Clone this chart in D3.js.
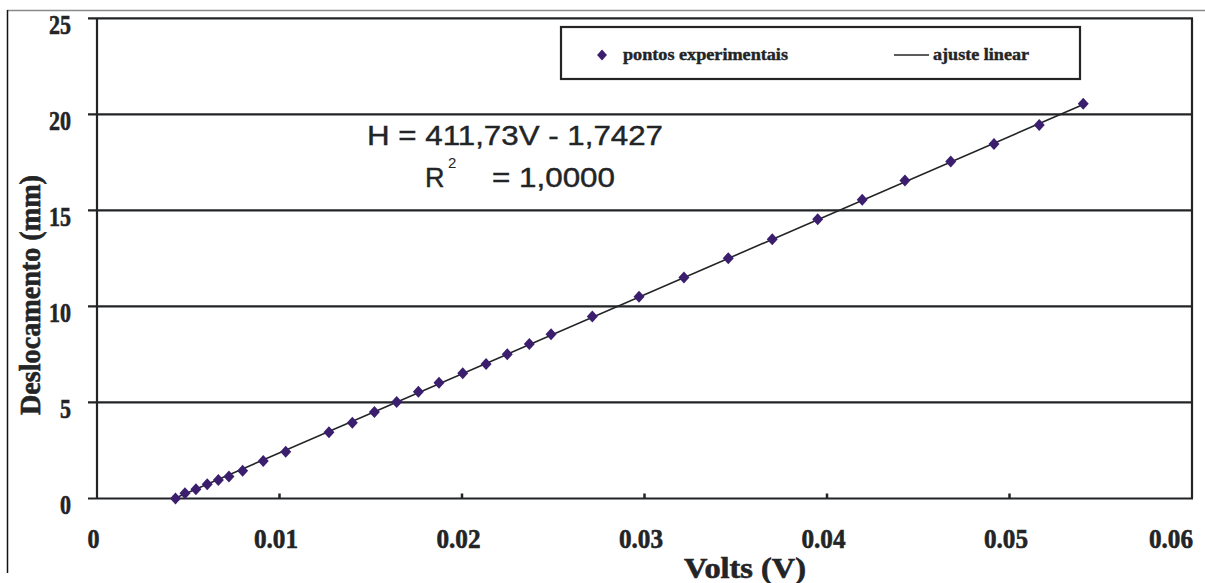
<!DOCTYPE html>
<html>
<head>
<meta charset="utf-8">
<script src="https://cdn.jsdelivr.net/npm/d3@7"></script>
<style>
  html, body { margin: 0; padding: 0; background: #ffffff; }
  svg { display: block; }
</style>
</head>
<body>
<svg id="chart" width="1205" height="583"></svg>
<script>
// Measured displacement versus output voltage
const volts = [0.00430, 0.00482, 0.00542, 0.00604, 0.00665, 0.00723, 0.00798, 0.00911,
               0.01034, 0.01271, 0.01399, 0.01520, 0.01642, 0.01761, 0.01874, 0.02004,
               0.02132, 0.02248, 0.02369, 0.02488, 0.02714, 0.02970, 0.03216, 0.03459,
               0.03700, 0.03949, 0.04193, 0.04427, 0.04678, 0.04915, 0.05163, 0.05404];
const displacement = [0.0, 0.27, 0.48, 0.74, 0.96, 1.14, 1.45, 1.95,
                      2.44, 3.45, 3.95, 4.50, 5.03, 5.56, 6.03, 6.52,
                      7.00, 7.51, 8.05, 8.55, 9.47, 10.50, 11.50, 12.51,
                      13.50, 14.54, 15.55, 16.55, 17.54, 18.46, 19.45, 20.55];

// Linear fit H = a*V + b
const fitSlope = 411.73;
const fitIntercept = -1.7427;
const fitLabel = "H = 411,73V - 1,7427";
const r2Label = "= 1,0000";

const xTicks = [0, 0.01, 0.02, 0.03, 0.04, 0.05, 0.06];
const xTickLabels = ["0", "0.01", "0.02", "0.03", "0.04", "0.05", "0.06"];
const yTicks = [0, 5, 10, 15, 20, 25];
const yTickLabels = ["0", "5", "10", "15", "20", "25"];

const xTitle = "Volts (V)";
const yTitle = "Deslocamento (mm)";
const legendLabels = ["pontos experimentais", "ajuste linear"];

const svg = d3.select("#chart");
const ink = "#222426";
const markerColor = "#3b1f6e";

const plotLeft = 97, plotRight = 1192, plotTop = 18.3, plotBottom = 498.5;
const x = d3.scaleLinear().domain([0, 0.06]).range([plotLeft, plotRight]);
const y = d3.scaleLinear().domain([0, 25]).range([plotBottom, plotTop]);

// outer frame pieces
svg.append("line").attr("x1", 7).attr("x2", 1205).attr("y1", 10.5).attr("y2", 10.5)
  .attr("stroke", "#8a8a8a").attr("stroke-width", 1.5);
svg.append("line").attr("x1", 7.5).attr("x2", 7.5).attr("y1", 10).attr("y2", 573)
  .attr("stroke", "#111").attr("stroke-width", 1.5);

// horizontal gridlines (extending left as tick marks)
svg.append("g").selectAll("line").data(yTicks).join("line")
  .attr("x1", plotLeft - 9).attr("x2", plotRight + 1)
  .attr("y1", d => y(d)).attr("y2", d => y(d))
  .attr("stroke", ink).attr("stroke-width", 2.2);

// vertical axis and right border
svg.append("line").attr("x1", plotLeft).attr("x2", plotLeft).attr("y1", y(25)).attr("y2", y(0))
  .attr("stroke", ink).attr("stroke-width", 2.2);
svg.append("line").attr("x1", plotRight).attr("x2", plotRight).attr("y1", y(25)).attr("y2", y(0))
  .attr("stroke", ink).attr("stroke-width", 2.2);

// x ticks point inward
svg.append("g").selectAll("line").data(xTicks.slice(1, -1)).join("line")
  .attr("x1", d => x(d)).attr("x2", d => x(d))
  .attr("y1", y(0)).attr("y2", y(0) - 5)
  .attr("stroke", ink).attr("stroke-width", 2.5);

// heavy condensed serif used for ticks, titles and legend
const serif = "'Liberation Serif', 'Times New Roman', serif";
function heavy(sel, size) {
  return sel.attr("font-family", serif).attr("font-weight", "bold").attr("font-size", size)
    .attr("fill", ink).attr("stroke", ink).attr("stroke-width", 0.6)
    .attr("lengthAdjust", "spacingAndGlyphs");
}

heavy(svg.append("g").selectAll("text").data(yTicks).join("text"), 27)
  .attr("x", 71).attr("y", d => y(d) + 15.5)
  .attr("text-anchor", "end")
  .attr("textLength", (d, i) => yTickLabels[i].length === 1 ? 11 : 22)
  .text((d, i) => yTickLabels[i]);

heavy(svg.append("g").selectAll("text").data(xTicks).join("text"), 27)
  .attr("x", (d, i) => i === xTicks.length - 1 ? x(d) + 1 : x(d) - 3.5)
  .attr("y", 548)
  .attr("text-anchor", (d, i) => i === xTicks.length - 1 ? "end" : "middle")
  .attr("textLength", (d, i) => xTickLabels[i].length === 1 ? 12 : 44)
  .text((d, i) => xTickLabels[i]);

// axis titles
heavy(svg.append("text"), 29).attr("x", 684).attr("y", 578)
  .attr("textLength", 122)
  .text(xTitle);

heavy(svg.append("text"), 29)
  .attr("transform", "translate(40,295) rotate(-90)")
  .attr("text-anchor", "middle")
  .attr("textLength", 240)
  .text(yTitle);

// fitted line across the measured range
const vMin = d3.min(volts), vMax = d3.max(volts);
svg.append("line")
  .attr("x1", x(vMin)).attr("y1", y(fitSlope * vMin + fitIntercept))
  .attr("x2", x(vMax)).attr("y2", y(fitSlope * vMax + fitIntercept))
  .attr("stroke", ink).attr("stroke-width", 1.6);

// experimental points as diamonds
const diamond = "M0,-6L5.5,0L0,6L-5.5,0Z";
svg.append("g").selectAll("path").data(volts).join("path")
  .attr("d", diamond)
  .attr("transform", (d, i) => `translate(${x(d)},${y(displacement[i])})`)
  .attr("fill", markerColor);

// regression equation
const eqFont = "'Liberation Sans', Arial, sans-serif";
svg.append("text").attr("x", 367).attr("y", 145)
  .attr("font-family", eqFont).attr("font-size", 27).attr("fill", ink)
  .attr("stroke", ink).attr("stroke-width", 0.4)
  .attr("textLength", 296).attr("lengthAdjust", "spacingAndGlyphs")
  .text(fitLabel);
svg.append("text").attr("x", 425).attr("y", 187)
  .attr("font-family", eqFont).attr("font-size", 27).attr("fill", ink)
  .attr("stroke", ink).attr("stroke-width", 0.4)
  .text("R");
svg.append("text").attr("x", 448).attr("y", 168)
  .attr("font-family", eqFont).attr("font-size", 15).attr("fill", ink)
  .text("2");
svg.append("text").attr("x", 492).attr("y", 187)
  .attr("font-family", eqFont).attr("font-size", 27).attr("fill", ink)
  .attr("stroke", ink).attr("stroke-width", 0.4)
  .attr("textLength", 123).attr("lengthAdjust", "spacingAndGlyphs")
  .text(r2Label);

// legend
const legend = svg.append("g");
legend.append("rect").attr("x", 561).attr("y", 27).attr("width", 519).attr("height", 52)
  .attr("fill", "#fff").attr("stroke", ink).attr("stroke-width", 2.2);
legend.append("path").attr("d", diamond).attr("transform", "translate(602,55) scale(0.9)")
  .attr("fill", markerColor);
heavy(legend.append("text"), 17).attr("x", 623).attr("y", 60)
  .attr("stroke-width", 0.4).attr("textLength", 165)
  .text(legendLabels[0]);
legend.append("line").attr("x1", 894).attr("x2", 929).attr("y1", 55).attr("y2", 55)
  .attr("stroke", ink).attr("stroke-width", 1.6);
heavy(legend.append("text"), 17).attr("x", 933).attr("y", 60)
  .attr("stroke-width", 0.4).attr("textLength", 96)
  .text(legendLabels[1]);
</script>
</body>
</html>
